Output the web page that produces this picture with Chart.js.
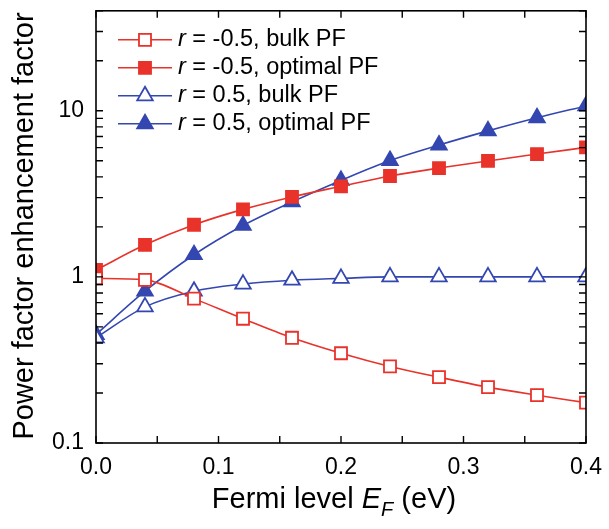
<!DOCTYPE html>
<html>
<head>
<meta charset="utf-8">
<script src="https://cdn.jsdelivr.net/npm/chart.js@4.4.0/dist/chart.umd.min.js"></script>
<style>
  html, body { margin: 0; padding: 0; background: #fff; }
  canvas { display: block; }
</style>
</head>
<body>
<canvas id="pfChart" width="609" height="529"></canvas>
<script>
// Fermi level (eV) and power factor enhancement for each case
const fermiLevel = [0, 0.04, 0.08, 0.12, 0.16, 0.20, 0.24, 0.28, 0.32, 0.36, 0.40];
const bulkNeg = [0.98, 0.96, 0.74, 0.56, 0.43, 0.347, 0.289, 0.249, 0.217, 0.194, 0.175];
const optimalNeg = [1.10, 1.56, 2.06, 2.55, 3.03, 3.51, 4.05, 4.52, 4.99, 5.49, 6.02];
const bulkPos = [0.43, 0.66, 0.82, 0.905, 0.955, 0.98, 1.0, 1.0, 1.0, 1.0, 1.0];
const optimalPos = [0.45, 0.82, 1.36, 2.04, 2.83, 3.81, 5.02, 6.22, 7.57, 9.08, 10.7];

const xTicks = [0, 0.1, 0.2, 0.3, 0.4];
const yTicks = [0.1, 1, 10];

const RED = '#e8322a';
const BLUE = '#3447b0';
const FONT = '"Liberation Sans", Arial, sans-serif';

function toPoints(ys) {
    return fermiLevel.map((x, i) => ({ x: x, y: ys[i] }));
}

function series(label, ys, color, style, filled) {
    return {
        label: label,
        data: toPoints(ys),
        borderColor: color,
        borderWidth: 1.6,
        pointStyle: style,
        pointRadius: style === 'rect' ? 8.5 : 9,
        pointBorderWidth: 1.8,
        pointBorderColor: color,
        pointBackgroundColor: filled ? color : '#fff',
        pointHoverRadius: style === 'rect' ? 8.5 : 9,
        cubicInterpolationMode: 'monotone',
        clip: 0
    };
}

const datasets = [
    series('-0.5|bulk PF', bulkNeg, RED, 'rect', false),
    series('-0.5|optimal PF', optimalNeg, RED, 'rect', true),
    series('0.5|bulk PF', bulkPos, BLUE, 'triangle', false),
    series('0.5|optimal PF', optimalPos, BLUE, 'triangle', true)
];

// frame with inward ticks on all four sides
const framePlugin = {
    id: 'frame',
    afterDatasetsDraw(chart) {
        const { ctx, chartArea: a, scales } = chart;
        const len = 7;
        ctx.save();
        ctx.strokeStyle = '#000';
        ctx.lineWidth = 1.6;
        ctx.strokeRect(a.left, a.top, a.right - a.left, a.bottom - a.top);
        ctx.lineWidth = 1.4;
        ctx.beginPath();
        for (let i = 0; i <= 8; i++) {
            const px = scales.x.getPixelForValue(i * 0.05);
            ctx.moveTo(px, a.bottom); ctx.lineTo(px, a.bottom - len);
            ctx.moveTo(px, a.top); ctx.lineTo(px, a.top + len);
        }
        [0.1, 1, 10].forEach(d => {
            for (let k = 1; k <= 9; k++) {
                const v = k * d;
                if (v < scales.y.min || v > scales.y.max) continue;
                const py = scales.y.getPixelForValue(v);
                ctx.moveTo(a.left, py); ctx.lineTo(a.left + len, py);
                ctx.moveTo(a.right, py); ctx.lineTo(a.right - len, py);
            }
        });
        ctx.stroke();
        ctx.restore();
    }
};

// axis titles and the legend, with italic symbols
const textPlugin = {
    id: 'texts',
    afterDraw(chart) {
        const { ctx, chartArea: a } = chart;
        ctx.save();
        ctx.fillStyle = '#000';

        // y title
        ctx.save();
        ctx.translate(25, 226);
        ctx.rotate(-Math.PI / 2);
        ctx.font = '29px ' + FONT;
        ctx.textAlign = 'center';
        ctx.textBaseline = 'middle';
        ctx.fillText('Power factor enhancement factor', 0, 0);
        ctx.restore();

        // x title: Fermi level E_F (eV)
        const big = '29px ' + FONT;
        const ital = 'italic 29px ' + FONT;
        const sub = 'italic 20px ' + FONT;
        const parts = [
            { t: 'Fermi level ', f: big, dy: 0 },
            { t: 'E', f: ital, dy: 0 },
            { t: 'F', f: sub, dy: 8 },
            { t: ' (eV)', f: big, dy: 0 }
        ];
        let total = 0;
        parts.forEach(p => { ctx.font = p.f; p.w = ctx.measureText(p.t).width; total += p.w; });
        let x = 334 - total / 2;
        ctx.textBaseline = 'alphabetic';
        ctx.textAlign = 'left';
        parts.forEach(p => {
            ctx.font = p.f;
            ctx.fillText(p.t, x, 508 + p.dy);
            x += p.w;
        });

        // legend
        chart.data.datasets.forEach((ds, i) => {
            const y = a.top + 29 + i * 28;
            const x0 = a.left + 22;
            ctx.strokeStyle = ds.borderColor;
            ctx.lineWidth = ds.borderWidth;
            ctx.beginPath();
            ctx.moveTo(x0, y); ctx.lineTo(x0 + 54, y);
            ctx.stroke();
            ctx.fillStyle = ds.pointBackgroundColor;
            ctx.strokeStyle = ds.pointBorderColor;
            ctx.lineWidth = ds.pointBorderWidth;
            Chart.helpers.drawPoint(ctx, {
                pointStyle: ds.pointStyle,
                radius: ds.pointRadius,
                rotation: 0,
                borderWidth: ds.pointBorderWidth
            }, x0 + 27, y);

            const [rv, kind] = ds.label.split('|');
            ctx.fillStyle = '#000';
            ctx.textBaseline = 'middle';
            let tx = x0 + 60;
            ctx.font = 'italic 23.5px ' + FONT;
            ctx.fillText('r', tx, y);
            tx += ctx.measureText('r').width;
            ctx.font = '23.5px ' + FONT;
            ctx.fillText(' = ' + rv + ', ' + kind, tx, y);
        });
        ctx.restore();
    }
};

new Chart(document.getElementById('pfChart').getContext('2d'), {
    type: 'line',
    data: { datasets: datasets },
    options: {
        responsive: false,
        animation: false,
        events: [],
        layout: { padding: { top: 5, right: 23, left: 0, bottom: 0 } },
        plugins: { legend: { display: false }, tooltip: { enabled: false } },
        scales: {
            x: {
                type: 'linear',
                min: 0,
                max: 0.4,
                afterBuildTicks: s => { s.ticks = xTicks.map(v => ({ value: v })); },
                afterFit: s => { s.height = 86; s.paddingLeft = 0; s.paddingRight = 0; },
                ticks: {
                    callback: v => v.toFixed(1),
                    font: { family: FONT, size: 23 },
                    color: '#000',
                    padding: 11,
                    maxRotation: 0
                },
                grid: { display: false, drawTicks: false },
                border: { display: false }
            },
            y: {
                type: 'logarithmic',
                min: 0.1,
                max: 40,
                afterBuildTicks: s => { s.ticks = yTicks.map(v => ({ value: v })); },
                afterFit: s => { s.width = 96; s.paddingTop = 0; s.paddingBottom = 0; },
                ticks: {
                    callback: v => String(v),
                    font: { family: FONT, size: 23 },
                    color: '#000',
                    padding: 12
                },
                grid: { display: false, drawTicks: false },
                border: { display: false }
            }
        }
    },
    plugins: [framePlugin, textPlugin]
});
</script>
</body>
</html>
